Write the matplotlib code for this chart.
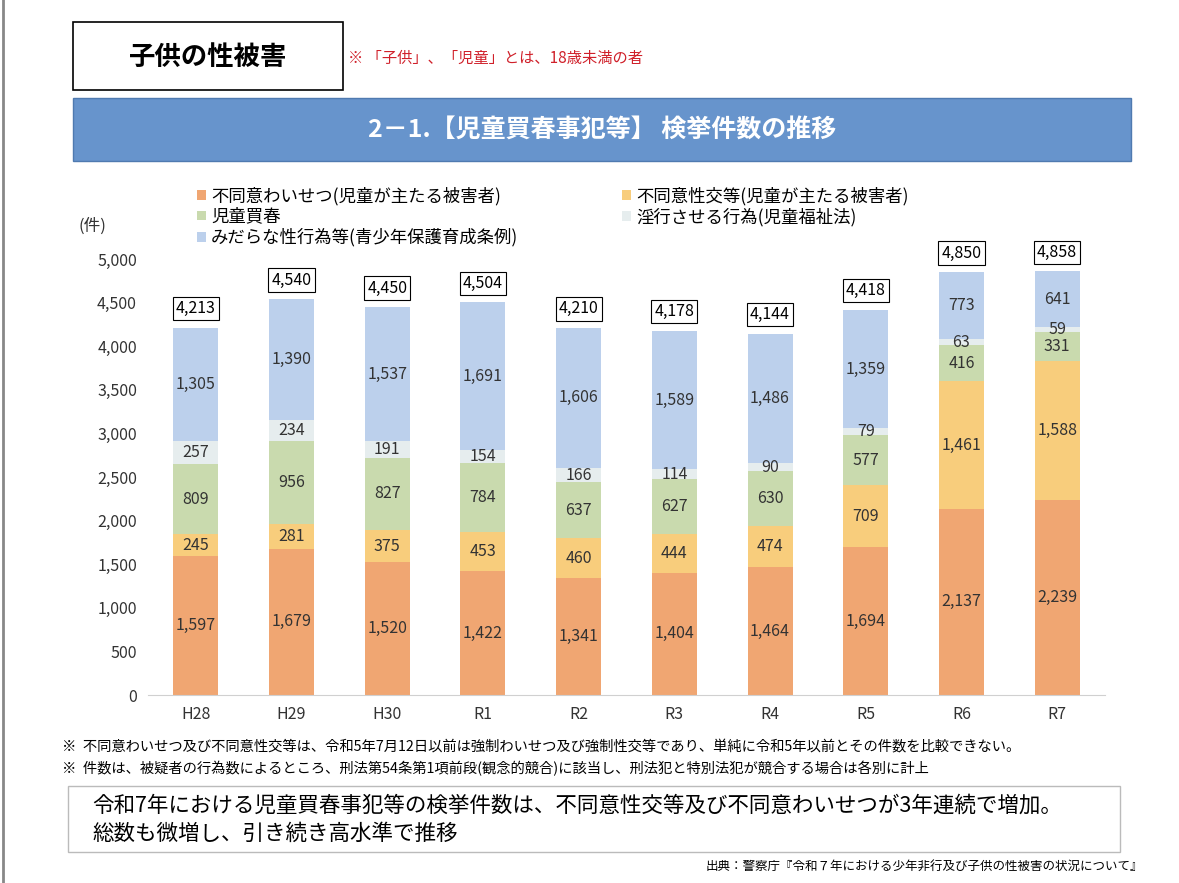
import numpy as np
import matplotlib.pyplot as plt
from matplotlib.patches import Rectangle

plt.rcParams['font.family'] = ['Noto Sans CJK JP', 'DejaVu Sans']

# -----------------------------
# DATA
# -----------------------------
years = ["H28", "H29", "H30", "R1", "R2", "R3", "R4", "R5", "R6", "R7"]
indecent = [1597, 1679, 1520, 1422, 1341, 1404, 1464, 1694, 2137, 2239]
intercourse = [245, 281, 375, 453, 460, 444, 474, 709, 1461, 1588]
prostitution = [809, 956, 827, 784, 637, 627, 630, 577, 416, 331]
welfare = [257, 234, 191, 154, 166, 114, 90, 79, 63, 59]
ordinance = [1305, 1390, 1537, 1691, 1606, 1589, 1486, 1359, 773, 641]
totals = [4213, 4540, 4450, 4504, 4210, 4178, 4144, 4418, 4850, 4858]

series = [
    ("不同意わいせつ(児童が主たる被害者)", indecent, "#F0A672"),
    ("不同意性交等(児童が主たる被害者)", intercourse, "#F8CD7C"),
    ("児童買春", prostitution, "#C9DAAE"),
    ("淫行させる行為(児童福祉法)", welfare, "#E6EDEE"),
    ("みだらな性行為等(青少年保護育成条例)", ordinance, "#BCD0EC"),
]

W, H = 1179, 883
fig = plt.figure(figsize=(W / 100, H / 100), dpi=100)


def fx(px):
    return px / W


def fy(py):
    return 1 - py / H


# page border line on the left
fig.add_artist(plt.Line2D([fx(3), fx(3)], [0, 1], color="#888888", lw=2))

# header box
fig.add_artist(Rectangle((fx(73), fy(90)), fx(270), 68 / H, transform=fig.transFigure,
                         fill=False, ec="black", lw=1.2))
fig.text(fx(208), fy(57), "子供の性被害", ha="center", va="center", fontsize=19, weight="bold")
fig.text(fx(348), fy(58), "※ 「子供」、「児童」とは、18歳未満の者", ha="left", va="center",
         fontsize=11, color="#D0202A")

# blue title band
fig.add_artist(Rectangle((fx(73), fy(161)), fx(1058), 63 / H, transform=fig.transFigure,
                         fc="#6794CC", ec="#4F7AB0", lw=1))
fig.text(fx(602), fy(130), "2－1.【児童買春事犯等】 検挙件数の推移", ha="center", va="center",
         fontsize=18, color="white", weight="bold")

# -----------------------------
# CHART
# -----------------------------
ax = fig.add_axes([fx(148), fy(695), fx(957), (695 - 259) / H])
x = np.arange(len(years))
bottom = np.zeros(len(years))
handles = []
for label, vals, color in series:
    vals = np.array(vals)
    bars = ax.bar(x, vals, 0.47, bottom=bottom, color=color, label=label)
    handles.append(bars)
    for xi, b, v in zip(x, bottom, vals):
        ax.text(xi, b + v / 2, f"{v:,}", ha="center", va="center", fontsize=11.5, color="#333333")
    bottom = bottom + vals

for xi, t, b in zip(x, totals, bottom):
    ax.text(xi, b + 120, f"{t:,}", ha="center", va="bottom", fontsize=11.5,
            bbox=dict(boxstyle="square,pad=0.2", fc="white", ec="black", lw=0.8))

ax.set_xlim(-0.5, len(years) - 0.5)
ax.set_ylim(0, 5000)
ax.set_yticks(np.arange(0, 5001, 500))
ax.set_yticklabels([f"{v:,}" for v in range(0, 5001, 500)], fontsize=11.5, color="#333333")
ax.set_xticks(x)
ax.set_xticklabels(years, fontsize=11.5, color="#333333")
ax.tick_params(length=0, pad=8)
for s in ["top", "right", "left"]:
    ax.spines[s].set_visible(False)
ax.spines["bottom"].set_color("#D0D0D0")

fig.text(fx(92), fy(226), "(件)", ha="center", va="center", fontsize=12, color="#333333")

# legend reads row by row: reorder for column-major filling
from matplotlib.patches import Patch
blank = Patch(color="none", label="")
order = [handles[0], handles[2], handles[4], handles[1], handles[3], blank]
labels = [series[0][0], series[2][0], series[4][0], series[1][0], series[3][0], ""]
ax.legend(order, labels, ncol=2, loc="lower left", bbox_to_anchor=(fx(185 - 148) / fx(957), 1.0),
          frameon=False, fontsize=12.5, handlelength=0.5, handleheight=0.5,
          columnspacing=6, labelspacing=0.15, handletextpad=0.3, borderaxespad=0.3)

# notes
fig.text(fx(62), fy(747), "※  不同意わいせつ及び不同意性交等は、令和5年7月12日以前は強制わいせつ及び強制性交等であり、単純に令和5年以前とその件数を比較できない。",
         fontsize=10.3, va="center")
fig.text(fx(62), fy(769), "※  件数は、被疑者の行為数によるところ、刑法第54条第1項前段(観念的競合)に該当し、刑法犯と特別法犯が競合する場合は各別に計上",
         fontsize=10.3, va="center")

fig.add_artist(Rectangle((fx(68), fy(852)), fx(1052), 66 / H, transform=fig.transFigure,
                         fill=False, ec="#BBBBBB", lw=1))
fig.text(fx(92), fy(806), "令和7年における児童買春事犯等の検挙件数は、不同意性交等及び不同意わいせつが3年連続で増加。",
         fontsize=15.5, va="center")
fig.text(fx(92), fy(834), "総数も微増し、引き続き高水準で推移", fontsize=15.5, va="center")
fig.text(fx(1143), fy(866), "出典：警察庁『令和７年における少年非行及び子供の性被害の状況について』",
         fontsize=9, ha="right", va="center")

fig.savefig("out.png", dpi=100)
